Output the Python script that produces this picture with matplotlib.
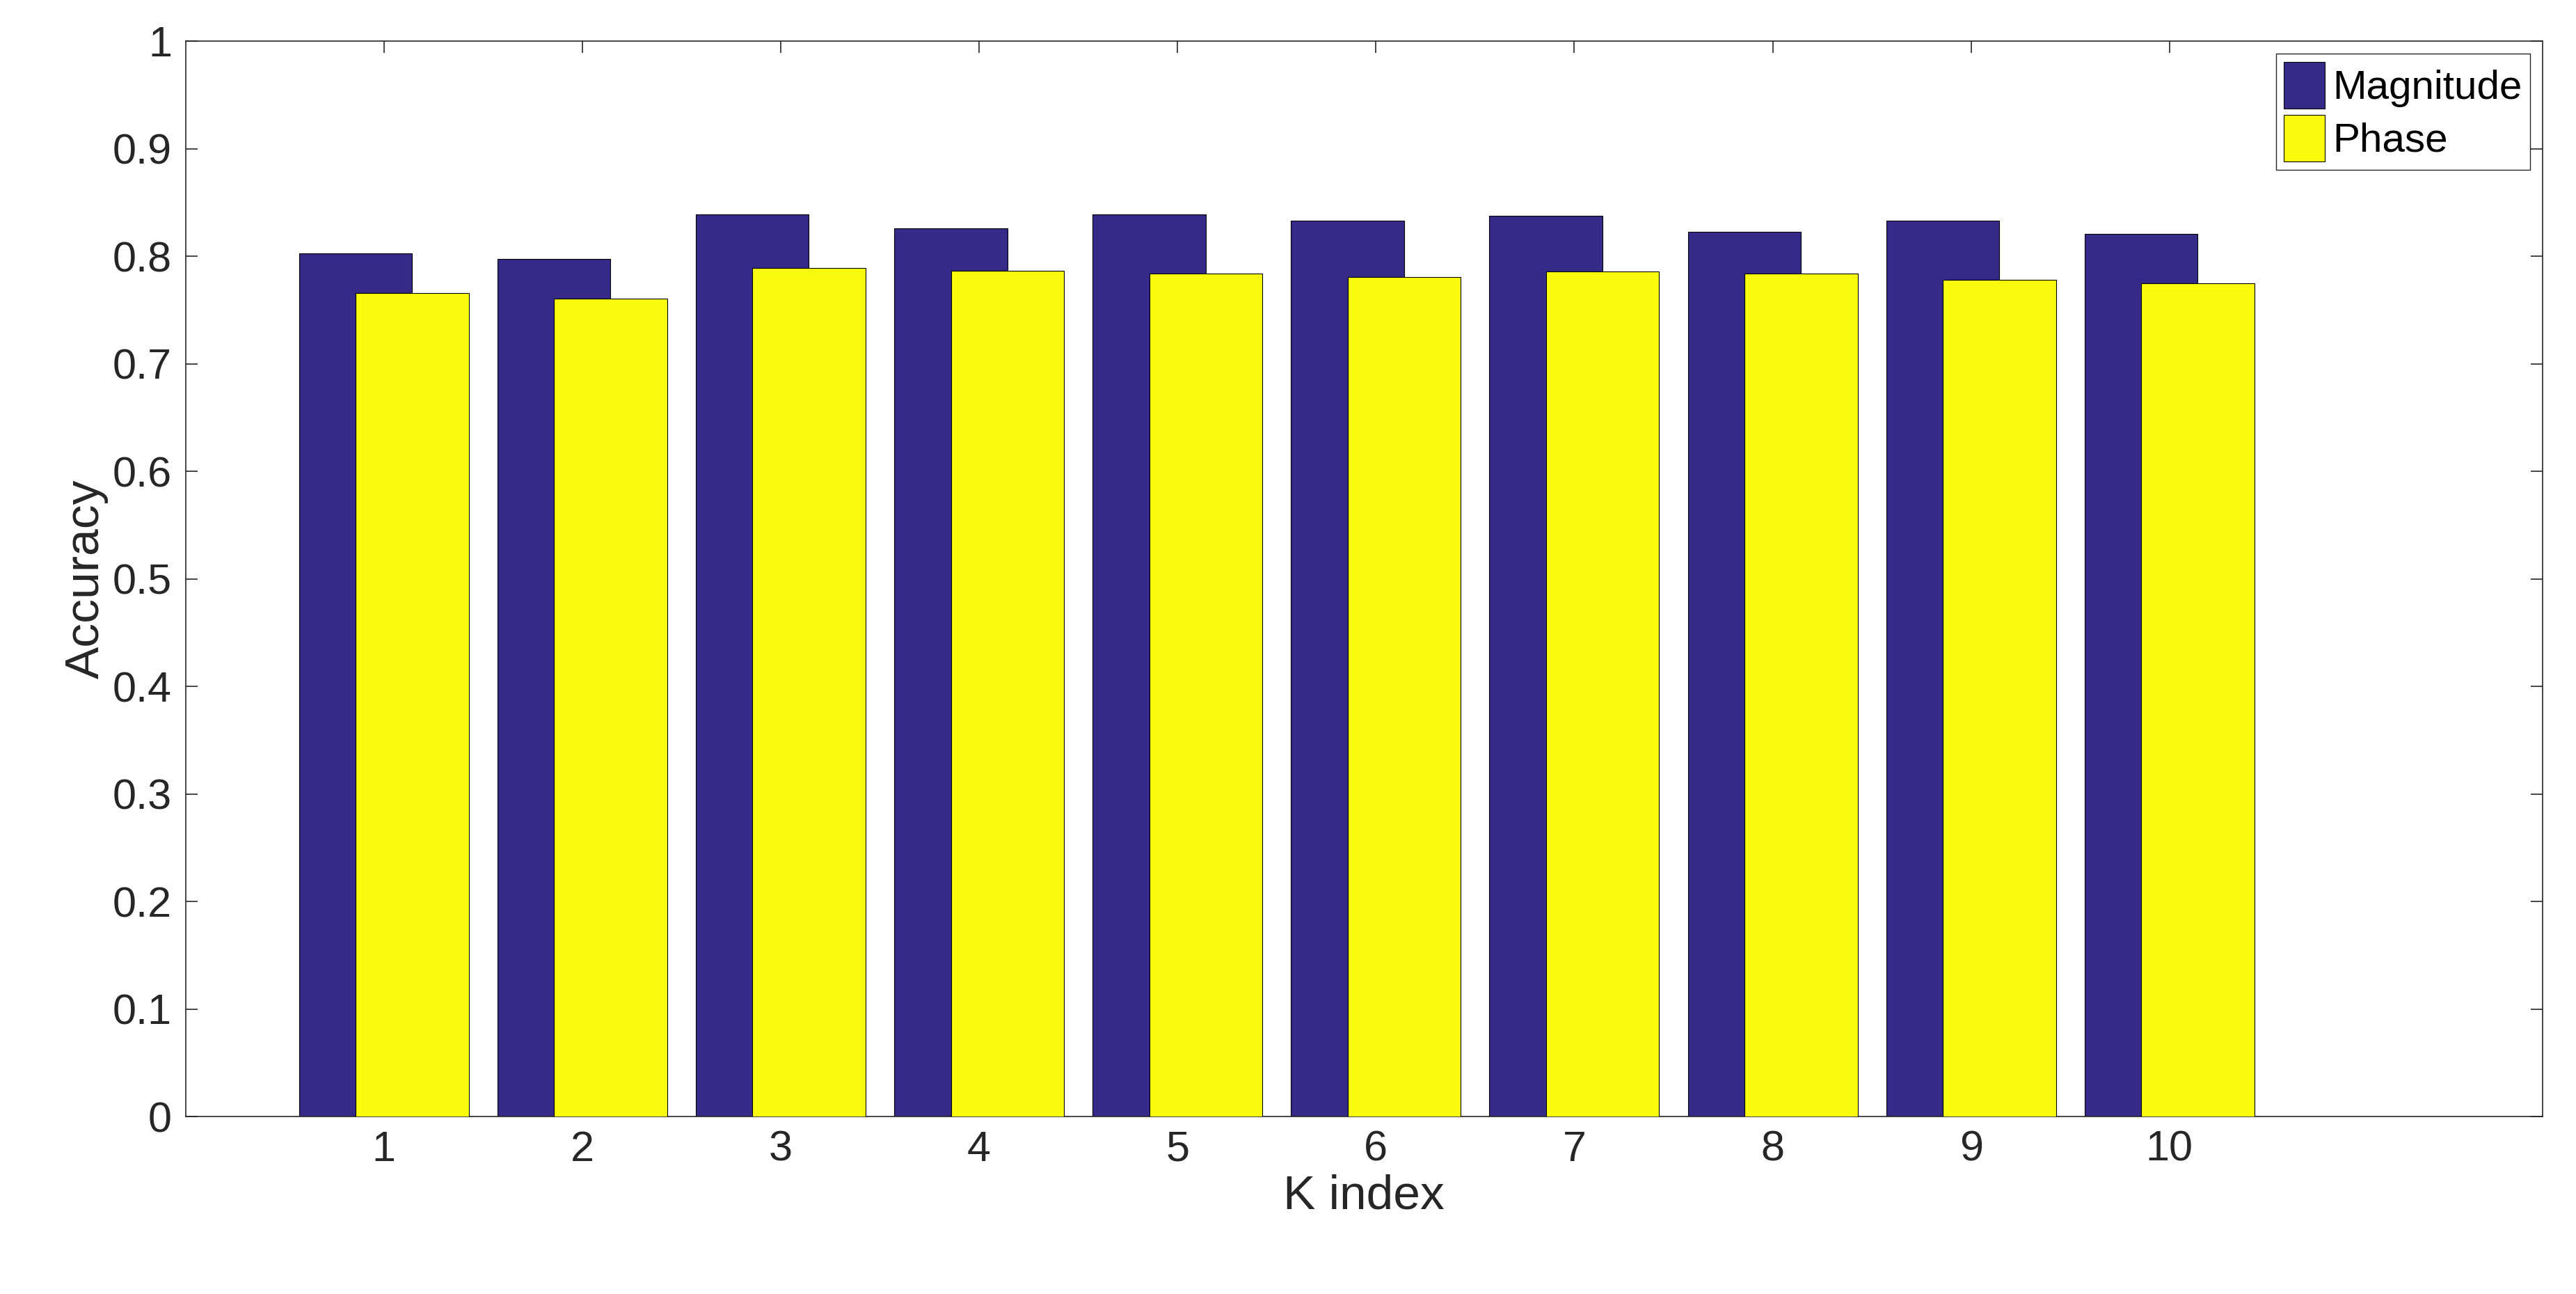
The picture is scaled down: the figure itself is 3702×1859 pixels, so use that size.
import matplotlib
matplotlib.use("Agg")
import matplotlib.pyplot as plt
import numpy as np

k = [1, 2, 3, 4, 5, 6, 7, 8, 9, 10]
magnitude = [0.803, 0.798, 0.839, 0.826, 0.839, 0.833, 0.838, 0.823, 0.833, 0.821]
phase = [0.766, 0.761, 0.789, 0.787, 0.784, 0.781, 0.786, 0.784, 0.778, 0.775]

plt.rcParams['font.family'] = ['Liberation Sans', 'DejaVu Sans']
fig = plt.figure(figsize=(37.02, 18.59), dpi=100)
ax = fig.add_axes([0.072, 0.137, 0.915, 0.831])
x = np.array(k, dtype=float)
w = 0.57
ax.bar(x - 0.143, magnitude, w, color='#352a87', edgecolor='black', linewidth=0.8, label='Magnitude', zorder=2)
ax.bar(x + 0.143, phase, w, color='#f9fb0e', edgecolor='black', linewidth=0.8, label='Phase', zorder=3)
ax.set_xlim(0, 11.88)
ax.set_ylim(0, 1)
ax.set_xticks(k)
ax.set_yticks(np.round(np.arange(0, 1.01, 0.1), 1))
ax.set_yticklabels(['0'] + [f'{v:.1f}' for v in np.arange(0.1, 0.95, 0.1)] + ['1'])
ax.tick_params(direction='in', length=12, width=1.2, labelsize=44, colors='#262626', top=True, right=True, pad=14)
for s in ax.spines.values():
    s.set_color('#262626'); s.set_linewidth(1.2)
ax.set_xlabel('K index', fontsize=50, color='#262626')
ax.set_ylabel('Accuracy', fontsize=50, color='#262626')
leg = ax.legend(loc='upper right', fontsize=42, fancybox=False, framealpha=1, edgecolor='#262626',
                handlelength=1.0, handleheight=1.4, handletextpad=0.2, borderpad=0.2, labelspacing=0.15,
                borderaxespad=0.3)
fig.savefig('out.png', dpi=100)
